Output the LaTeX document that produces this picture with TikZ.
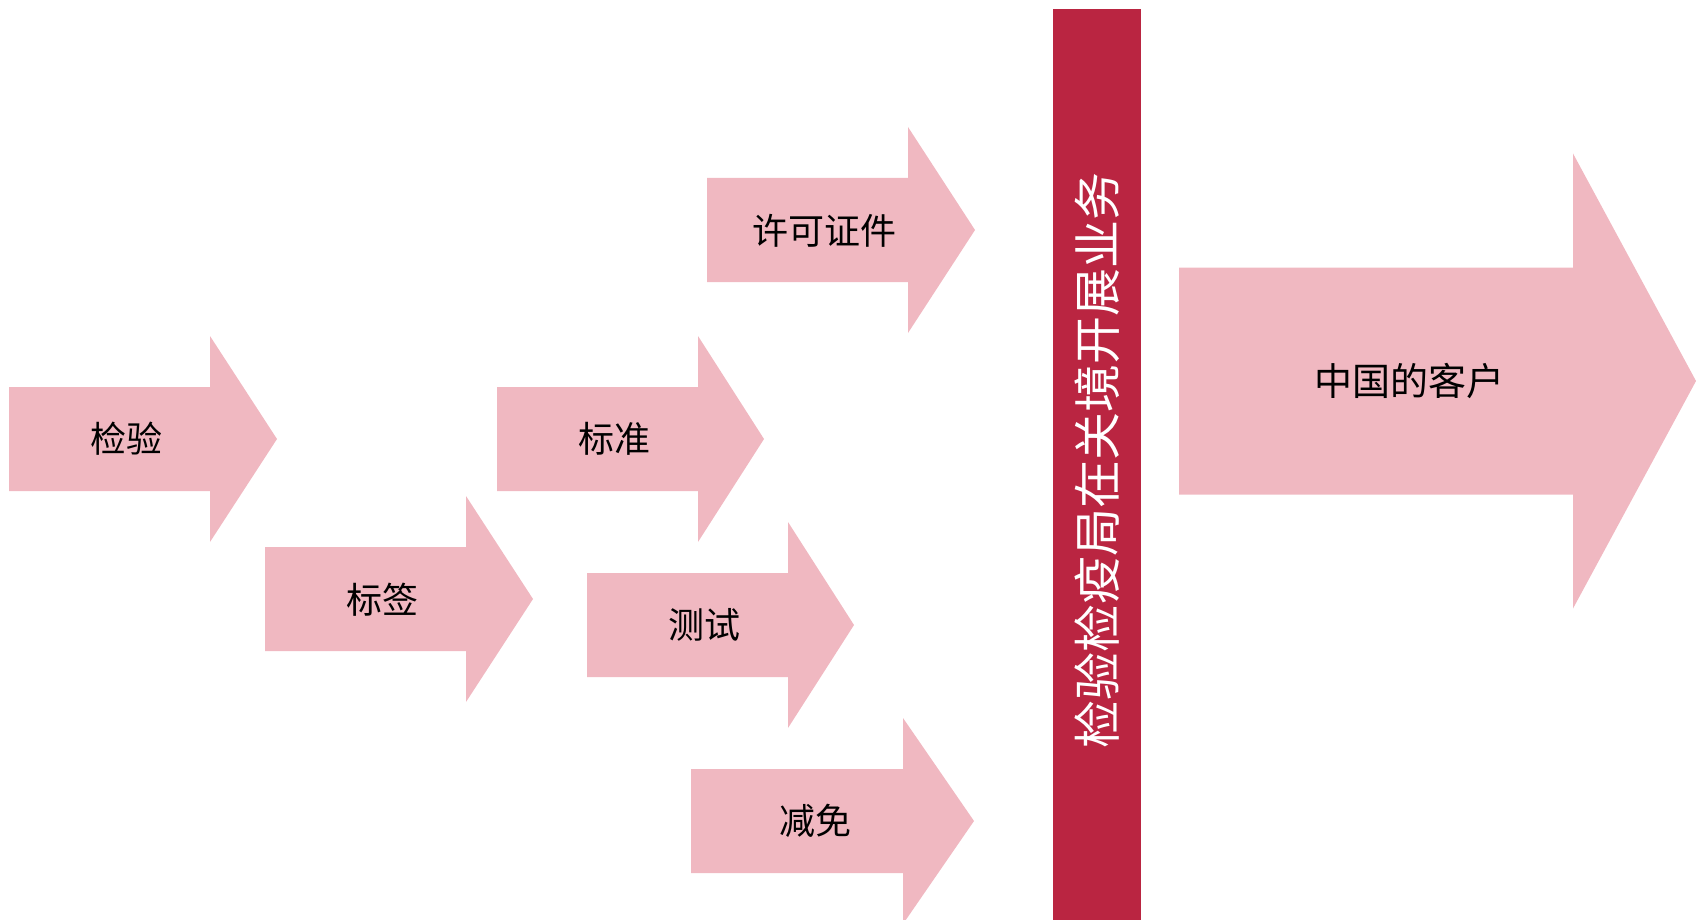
\documentclass[tikz,border=0pt]{standalone}
\usepackage{fontspec}
\newfontfamily\cjk{Noto Sans CJK SC}
\definecolor{arrowpink}{RGB}{240,184,193}
\definecolor{barred}{RGB}{186,37,65}
\tikzset{
  arrowfill/.style={fill=arrowpink, draw=none},
  lbl/.style={inner sep=0pt, text=black, font=\cjk\fontsize{36}{40}\selectfont},
  bigtxt/.style={inner sep=0pt, text=black, font=\cjk\fontsize{38}{42}\selectfont},
  bartxt/.style={inner sep=0pt, text=white, rotate=90, font=\cjk\fontsize{48}{52}\selectfont}
}
% #1 left, #2 centre y, #3 body end, #4 tip, #5 body half height, #6 head half height
\newcommand\pinkarrow[6]{%
  \fill[arrowfill] (#1,#2-#5) -- (#3,#2-#5) -- (#3,#2-#6) -- (#4,#2) -- (#3,#2+#6) -- (#3,#2+#5) -- (#1,#2+#5) -- cycle;}
\begin{document}
\begin{tikzpicture}[x=1pt,y=-1pt]
\useasboundingbox (0,0) rectangle (1696,920);
\begin{scope}
\clip (0,0) rectangle (1696,920);
\pinkarrow{9}{439}{210}{277}{52}{103}
\pinkarrow{265}{599}{466}{533}{52}{103}
\pinkarrow{497}{439}{698}{764}{52}{103}
\pinkarrow{587}{625}{788}{854}{52}{103}
\pinkarrow{707}{230}{908}{975}{52}{103}
\pinkarrow{691}{821}{903}{974}{52}{103}
\pinkarrow{1179}{381}{1573}{1696}{113.5}{227.5}
\fill[barred] (1053,9) rectangle (1141,920);
\end{scope}
\node[lbl] (jianyan) at (126,439) {检验};
\node[lbl] (biaoqian) at (382,600) {标签};
\node[lbl] (biaozhun) at (614,439) {标准};
\node[lbl] (ceshi) at (704,625) {测试};
\node[lbl] (xuke) at (824,231) {许可证件};
\node[lbl] (jianmian) at (815,821) {减免};
\node[bigtxt] (kehu) at (1409,381) {中国的客户};
\node[bartxt] (bar) at (1097,460) {检验检疫局在关境开展业务};
\end{tikzpicture}
\end{document}
